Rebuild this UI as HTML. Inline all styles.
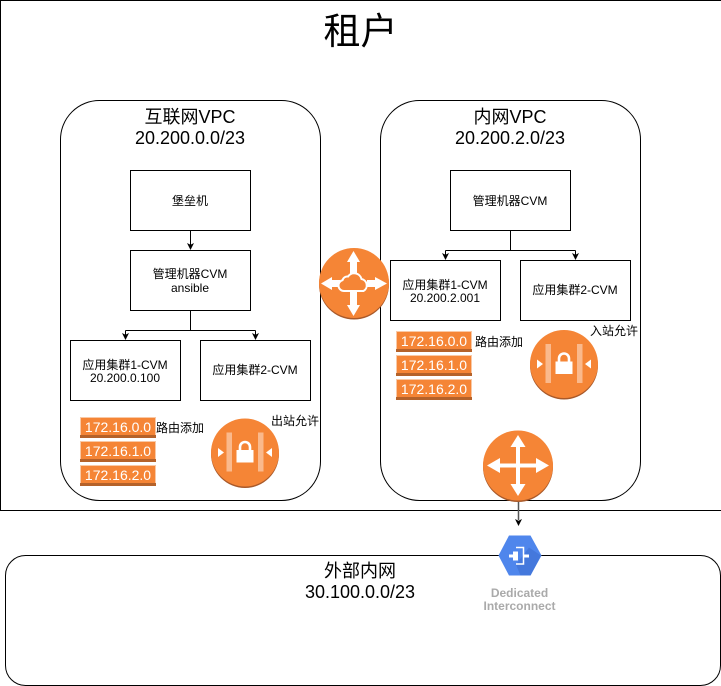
<!DOCTYPE html>
<html><head><meta charset="utf-8">
<style>
html,body{margin:0;padding:0;background:#fff;}
svg{display:block;}
text{font-family:"Liberation Sans","Noto Sans CJK SC",sans-serif;fill:#000;text-anchor:middle;}
.s{font-size:12px;}
.m{font-size:18px;}
.ip{font-size:14px;fill:#fff;font-family:"Liberation Sans",sans-serif;}
.l{text-anchor:start;font-size:12px;}
.box{fill:#fff;stroke:#000;stroke-width:1;}
.ln{fill:none;stroke:#000;stroke-width:1;}
.ah{fill:#000;stroke:none;}
</style></head><body>
<svg width="721" height="686" viewBox="0 0 721 686" xmlns="http://www.w3.org/2000/svg">
<defs>
<g id="tag">
<rect x="0" y="0" width="76" height="21" fill="#f9c9a6"/>
<rect x="1" y="1" width="74" height="19" fill="#f58536"/>
<rect x="0" y="18" width="76" height="3" fill="#b5622a"/>
</g>
<g id="lock">
<circle cx="0" cy="1.500" r="34" fill="#a8592a"/>
<circle cx="0" cy="0" r="34" fill="#f58536"/>
<rect x="-18.500" y="-20" width="5.500" height="39" fill="#fab98c"/>
<rect x="13" y="-20" width="5.500" height="39" fill="#fab98c"/>
<rect x="-8.500" y="-2.500" width="17" height="12.500" fill="#fff"/>
<path d="M-5 -2.500v-3a5 5 0 0 1 10 0v3" fill="none" stroke="#fff" stroke-width="2.600"/>
<path d="M-27 -4.500l6 4.500l-6 4.500z" fill="#fff"/>
<path d="M27 -4.500l-6 4.500l6 4.500z" fill="#fff"/>
</g>
</defs>

<rect x="0.500" y="0.500" width="721" height="510" class="box"/>
<text x="360.500" y="44" style="font-size:37px">租户</text>

<rect x="60.500" y="100.500" width="260" height="400" rx="39" ry="39" class="box"/>
<rect x="380.500" y="100.500" width="260" height="400" rx="39" ry="39" class="box"/>
<text class="m" x="190" y="123">互联网VPC</text>
<text class="m" x="190" y="144">20.200.0.0/23</text>
<text class="m" x="510" y="123">内网VPC</text>
<text class="m" x="510" y="144">20.200.2.0/23</text>

<!-- left connectors -->
<path class="ln" d="M190.500 230.500V245"/>
<path class="ah" d="M190.500 250l-3.500 -7l3.500 1.750l3.500 -1.750z"/>
<path class="ln" d="M190.500 310.500V330.500M125.500 330.500H255.500M125.500 330.500V335M255.500 330.500V335"/>
<path class="ah" d="M125.500 340l-3.500 -7l3.500 1.750l3.500 -1.750zM255.500 340l-3.500 -7l3.500 1.750l3.500 -1.750z"/>

<rect x="130.500" y="170.500" width="120" height="60" class="box"/>
<text class="s" x="190" y="205">堡垒机</text>
<rect x="130.500" y="250.500" width="120" height="60" class="box"/>
<text class="s" x="190" y="278">管理机器CVM</text>
<text class="s" x="190" y="292">ansible</text>
<rect x="70.500" y="340.500" width="110" height="60" class="box"/>
<text class="s" x="125" y="369">应用集群1-CVM</text>
<text class="s" x="125" y="382">20.200.0.100</text>
<rect x="200.500" y="340.500" width="110" height="60" class="box"/>
<text class="s" x="255" y="374">应用集群2-CVM</text>

<use href="#tag" x="80" y="417"/>
<use href="#tag" x="80" y="441"/>
<use href="#tag" x="80" y="465"/>
<text class="ip" x="118" y="432">172.16.0.0</text>
<text class="ip" x="118" y="456">172.16.1.0</text>
<text class="ip" x="118" y="480">172.16.2.0</text>
<text class="l" x="156" y="432">路由添加</text>
<use href="#lock" x="245" y="452.500"/>
<text class="l" x="271" y="425">出站允许</text>

<!-- right connectors -->
<path class="ln" d="M510.500 230.500V250.500M445.500 250.500H575.500M445.500 250.500V255M575.500 250.500V255"/>
<path class="ah" d="M445.500 260l-3.500 -7l3.500 1.750l3.500 -1.750zM575.500 260l-3.500 -7l3.500 1.750l3.500 -1.750z"/>

<rect x="450.500" y="170.500" width="120" height="60" class="box"/>
<text class="s" x="510" y="205">管理机器CVM</text>
<rect x="390.500" y="260.500" width="110" height="60" class="box"/>
<text class="s" x="445" y="289">应用集群1-CVM</text>
<text class="s" x="445" y="302">20.200.2.001</text>
<rect x="520.500" y="260.500" width="110" height="60" class="box"/>
<text class="s" x="575" y="294">应用集群2-CVM</text>

<use href="#tag" x="396" y="331"/>
<use href="#tag" x="396" y="355"/>
<use href="#tag" x="396" y="379"/>
<text class="ip" x="434" y="346">172.16.0.0</text>
<text class="ip" x="434" y="370">172.16.1.0</text>
<text class="ip" x="434" y="394">172.16.2.0</text>
<text class="l" x="475" y="346">路由添加</text>
<use href="#lock" x="564" y="364"/>
<text class="l" x="590" y="335">入站允许</text>

<!-- center router -->
<circle cx="354" cy="284.500" r="35" fill="#a8592a"/>
<circle cx="354" cy="283" r="35" fill="#f58536"/>
<path d="M353.500 251l6.500 11h-3v12h-7v-12h-3z" fill="#fff"/>
<path d="M353.500 316l6.500 -11h-3v-14h-7v14h-3z" fill="#fff"/>
<path d="M321 283.500l11 -6.500v3h8v7h-8v3z" fill="#fff"/>
<path d="M387 283.500l-12 -6.500v3h-8v7h8v3z" fill="#fff"/>
<path d="M344 291a5.500 5.500 0 0 1 -1.500 -10.800a5 5 0 0 1 5.500 -3.700a7.500 7.500 0 0 1 13.500 2.500a6.500 6.500 0 0 1 2 12z" fill="#f58536" stroke="#fff" stroke-width="2"/>

<!-- bottom router -->
<circle cx="518" cy="467" r="35" fill="#a8592a"/>
<circle cx="518" cy="465.500" r="35" fill="#f58536"/>
<rect x="516" y="445" width="4" height="42" fill="#fff"/>
<rect x="498" y="463.500" width="40" height="4" fill="#fff"/>
<path d="M518 435l7.500 12h-15z" fill="#fff"/>
<path d="M518 496l7.500 -12h-15z" fill="#fff"/>
<path d="M487 465.500l13 -7.500v15z" fill="#fff"/>
<path d="M549 465.500l-13 -7.500v15z" fill="#fff"/>

<!-- external -->
<rect x="5.500" y="555.500" width="715" height="130" rx="20" ry="20" class="box"/>
<text class="m" x="360" y="577">外部内网</text>
<text class="m" x="360" y="598">30.100.0.0/23</text>

<path d="M518.500 502V520" stroke="#555" stroke-width="1.500" fill="none"/>
<path d="M518.500 526l-3.500 -7l3.500 1.750l3.500 -1.750z" class="ah"/>

<path d="M498.500 555.500l10.500 -20h21.500l11 20l-11 20h-21.500z" fill="#4f86ec"/>
<path d="M516 564.500l13 -17l12 8l-10.500 20h-10z" fill="#4478dc"/>
<rect x="513" y="551.500" width="5" height="9" fill="#fff"/>
<rect x="509" y="554.500" width="5" height="3" fill="#fff"/>
<path d="M516 547.500h7.500v16.500h-7.500" fill="none" stroke="#fff" stroke-width="1.500"/>
<rect x="523" y="554.500" width="6" height="3" fill="#fff"/>
<text x="519.500" y="597" style="font-size:12px;font-weight:bold;fill:#aaaaaa">Dedicated</text>
<text x="519.500" y="610" style="font-size:12px;font-weight:bold;fill:#aaaaaa">Interconnect</text>
</svg>
</body></html>
